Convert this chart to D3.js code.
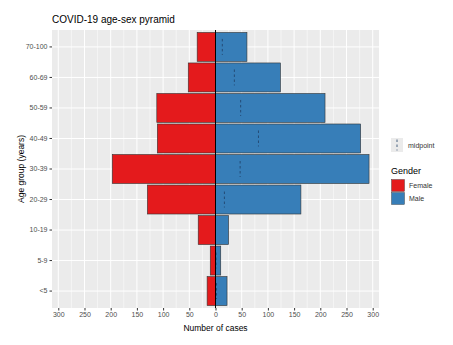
<!DOCTYPE html>
<html>
<head>
<meta charset="utf-8">
<script src="https://cdn.jsdelivr.net/npm/d3@7"></script>
<style>
  body { margin: 0; background: #fff; }
  text { font-family: "Liberation Sans", Arial, sans-serif; }
</style>
</head>
<body>
<div id="chart"></div>
<script>
// age groups, top to bottom
const ageGroups = ["70-100", "60-69", "50-59", "40-49", "30-39", "20-29", "10-19", "5-9", "<5"]
const femaleCases = [35, 52, 112, 111, 197, 130, 33, 10, 16]
const maleCases = [60, 124, 209, 277, 293, 163, 25, 10, 22]
const midpoints = [13, 36, 48, 82, 47, 17, 0, 1, 2]
const xTicks = [-300, -250, -200, -150, -100, -50, 0, 50, 100, 150, 200, 250, 300]

const width = 453, height = 345
const margin = { top: 30, right: 74, bottom: 37, left: 52 }

const colors = { Female: "#E41A1C", Male: "#377EB8" }

const x = d3.scaleLinear()
    .domain([-312, 312])
    .range([margin.left, width - margin.right])

const y = d3.scaleBand()
    .domain(ageGroups)
    .range([margin.top, height - margin.bottom])
    .paddingOuter(0.08)
    .paddingInner(0.05)

const svg = d3.select("#chart")
    .append("svg")
    .attr("width", width)
    .attr("height", height)

// panel background
svg.append("rect")
    .attr("x", margin.left)
    .attr("y", margin.top)
    .attr("width", width - margin.right - margin.left)
    .attr("height", height - margin.bottom - margin.top)
    .attr("fill", "#EBEBEB")

// minor and major grid
svg.append("g")
    .selectAll("line")
    .data(d3.range(-300, 301, 25).filter(v => v % 50 != 0))
    .join("line")
    .attr("x1", d => x(d)).attr("x2", d => x(d))
    .attr("y1", margin.top).attr("y2", height - margin.bottom)
    .attr("stroke", "#fff").attr("stroke-width", 0.5)

svg.append("g")
    .selectAll("line")
    .data(xTicks)
    .join("line")
    .attr("x1", d => x(d)).attr("x2", d => x(d))
    .attr("y1", margin.top).attr("y2", height - margin.bottom)
    .attr("stroke", "#fff").attr("stroke-width", 1)

svg.append("g")
    .selectAll("line")
    .data(ageGroups)
    .join("line")
    .attr("x1", margin.left).attr("x2", width - margin.right)
    .attr("y1", d => y(d) + y.bandwidth() / 2).attr("y2", d => y(d) + y.bandwidth() / 2)
    .attr("stroke", "#fff").attr("stroke-width", 1)

// bars
const rows = ageGroups.map((g, i) => ({ group: g, female: femaleCases[i], male: maleCases[i], mid: midpoints[i] }))

svg.append("g")
    .attr("stroke", "#333").attr("stroke-width", 0.6)
    .selectAll("rect.female")
    .data(rows)
    .join("rect")
    .attr("x", d => x(-d.female))
    .attr("y", d => y(d.group))
    .attr("width", d => x(0) - x(-d.female))
    .attr("height", y.bandwidth())
    .attr("fill", colors.Female)

svg.append("g")
    .attr("stroke", "#333").attr("stroke-width", 0.6)
    .selectAll("rect.male")
    .data(rows)
    .join("rect")
    .attr("x", x(0))
    .attr("y", d => y(d.group))
    .attr("width", d => x(d.male) - x(0))
    .attr("height", y.bandwidth())
    .attr("fill", colors.Male)

// midpoint markers
svg.append("g")
    .selectAll("line")
    .data(rows)
    .join("line")
    .attr("x1", d => x(d.mid)).attr("x2", d => x(d.mid))
    .attr("y1", d => y(d.group) + y.bandwidth() / 2 - 8)
    .attr("y2", d => y(d.group) + y.bandwidth() / 2 + 8)
    .attr("stroke", "#1f3f66").attr("stroke-width", 0.8)
    .attr("stroke-dasharray", "2.5,2.5")

// zero line
svg.append("line")
    .attr("x1", x(0)).attr("x2", x(0))
    .attr("y1", margin.top).attr("y2", height - margin.bottom)
    .attr("stroke", "#000").attr("stroke-width", 1)

// axes
const xAxis = g => g
    .attr("transform", `translate(0,${height - margin.bottom})`)
    .call(d3.axisBottom(x).tickValues(xTicks).tickFormat(d => Math.abs(d)).tickSize(2.5).tickPadding(2))
    .call(g => g.select(".domain").remove())
    .call(g => g.selectAll(".tick line").attr("stroke", "#333"))
    .call(g => g.selectAll("text").attr("fill", "#4D4D4D").attr("font-size", 7))

const yAxis = g => g
    .attr("transform", `translate(${margin.left},0)`)
    .call(d3.axisLeft(y).tickSize(2.5).tickPadding(2))
    .call(g => g.select(".domain").remove())
    .call(g => g.selectAll(".tick line").attr("stroke", "#333"))
    .call(g => g.selectAll("text").attr("fill", "#4D4D4D").attr("font-size", 7))

svg.append("g").call(xAxis)
svg.append("g").call(yAxis)

svg.append("text")
    .attr("x", (margin.left + width - margin.right) / 2)
    .attr("y", height - margin.bottom + 23)
    .attr("text-anchor", "middle")
    .attr("font-size", 8.5)
    .text("Number of cases")

svg.append("text")
    .attr("transform", `translate(24,${(margin.top + height - margin.bottom) / 2}) rotate(-90)`)
    .attr("text-anchor", "middle")
    .attr("font-size", 8.5)
    .text("Age group (years)")

// title
svg.append("text")
    .attr("x", margin.left)
    .attr("y", 23)
    .attr("font-size", 10)
    .text("COVID-19 age-sex pyramid")

// legends
const lx = 391
const mid = svg.append("g").attr("transform", `translate(${lx},138)`)
mid.append("rect").attr("width", 12).attr("height", 14).attr("fill", "#EBEBEB")
mid.append("line")
    .attr("x1", 6).attr("x2", 6).attr("y1", 1.5).attr("y2", 12.5)
    .attr("stroke", "#1f3f66").attr("stroke-width", 0.8)
    .attr("stroke-dasharray", "2.5,2.5")
mid.append("text").attr("x", 17).attr("y", 9.5).attr("font-size", 7).attr("fill", "#333").text("midpoint")

const leg = svg.append("g").attr("transform", `translate(${lx},166)`)
leg.append("text").attr("y", 8).attr("font-size", 9).text("Gender")
Object.entries(colors).forEach(([name, c], i) => {
    leg.append("rect")
        .attr("x", 0.5).attr("y", 13.5 + i * 13)
        .attr("width", 13).attr("height", 12)
        .attr("fill", c).attr("stroke", "#333").attr("stroke-width", 0.4)
    leg.append("text")
        .attr("x", 18).attr("y", 22 + i * 13)
        .attr("font-size", 7).attr("fill", "#333")
        .text(name)
})
</script>
</body>
</html>
